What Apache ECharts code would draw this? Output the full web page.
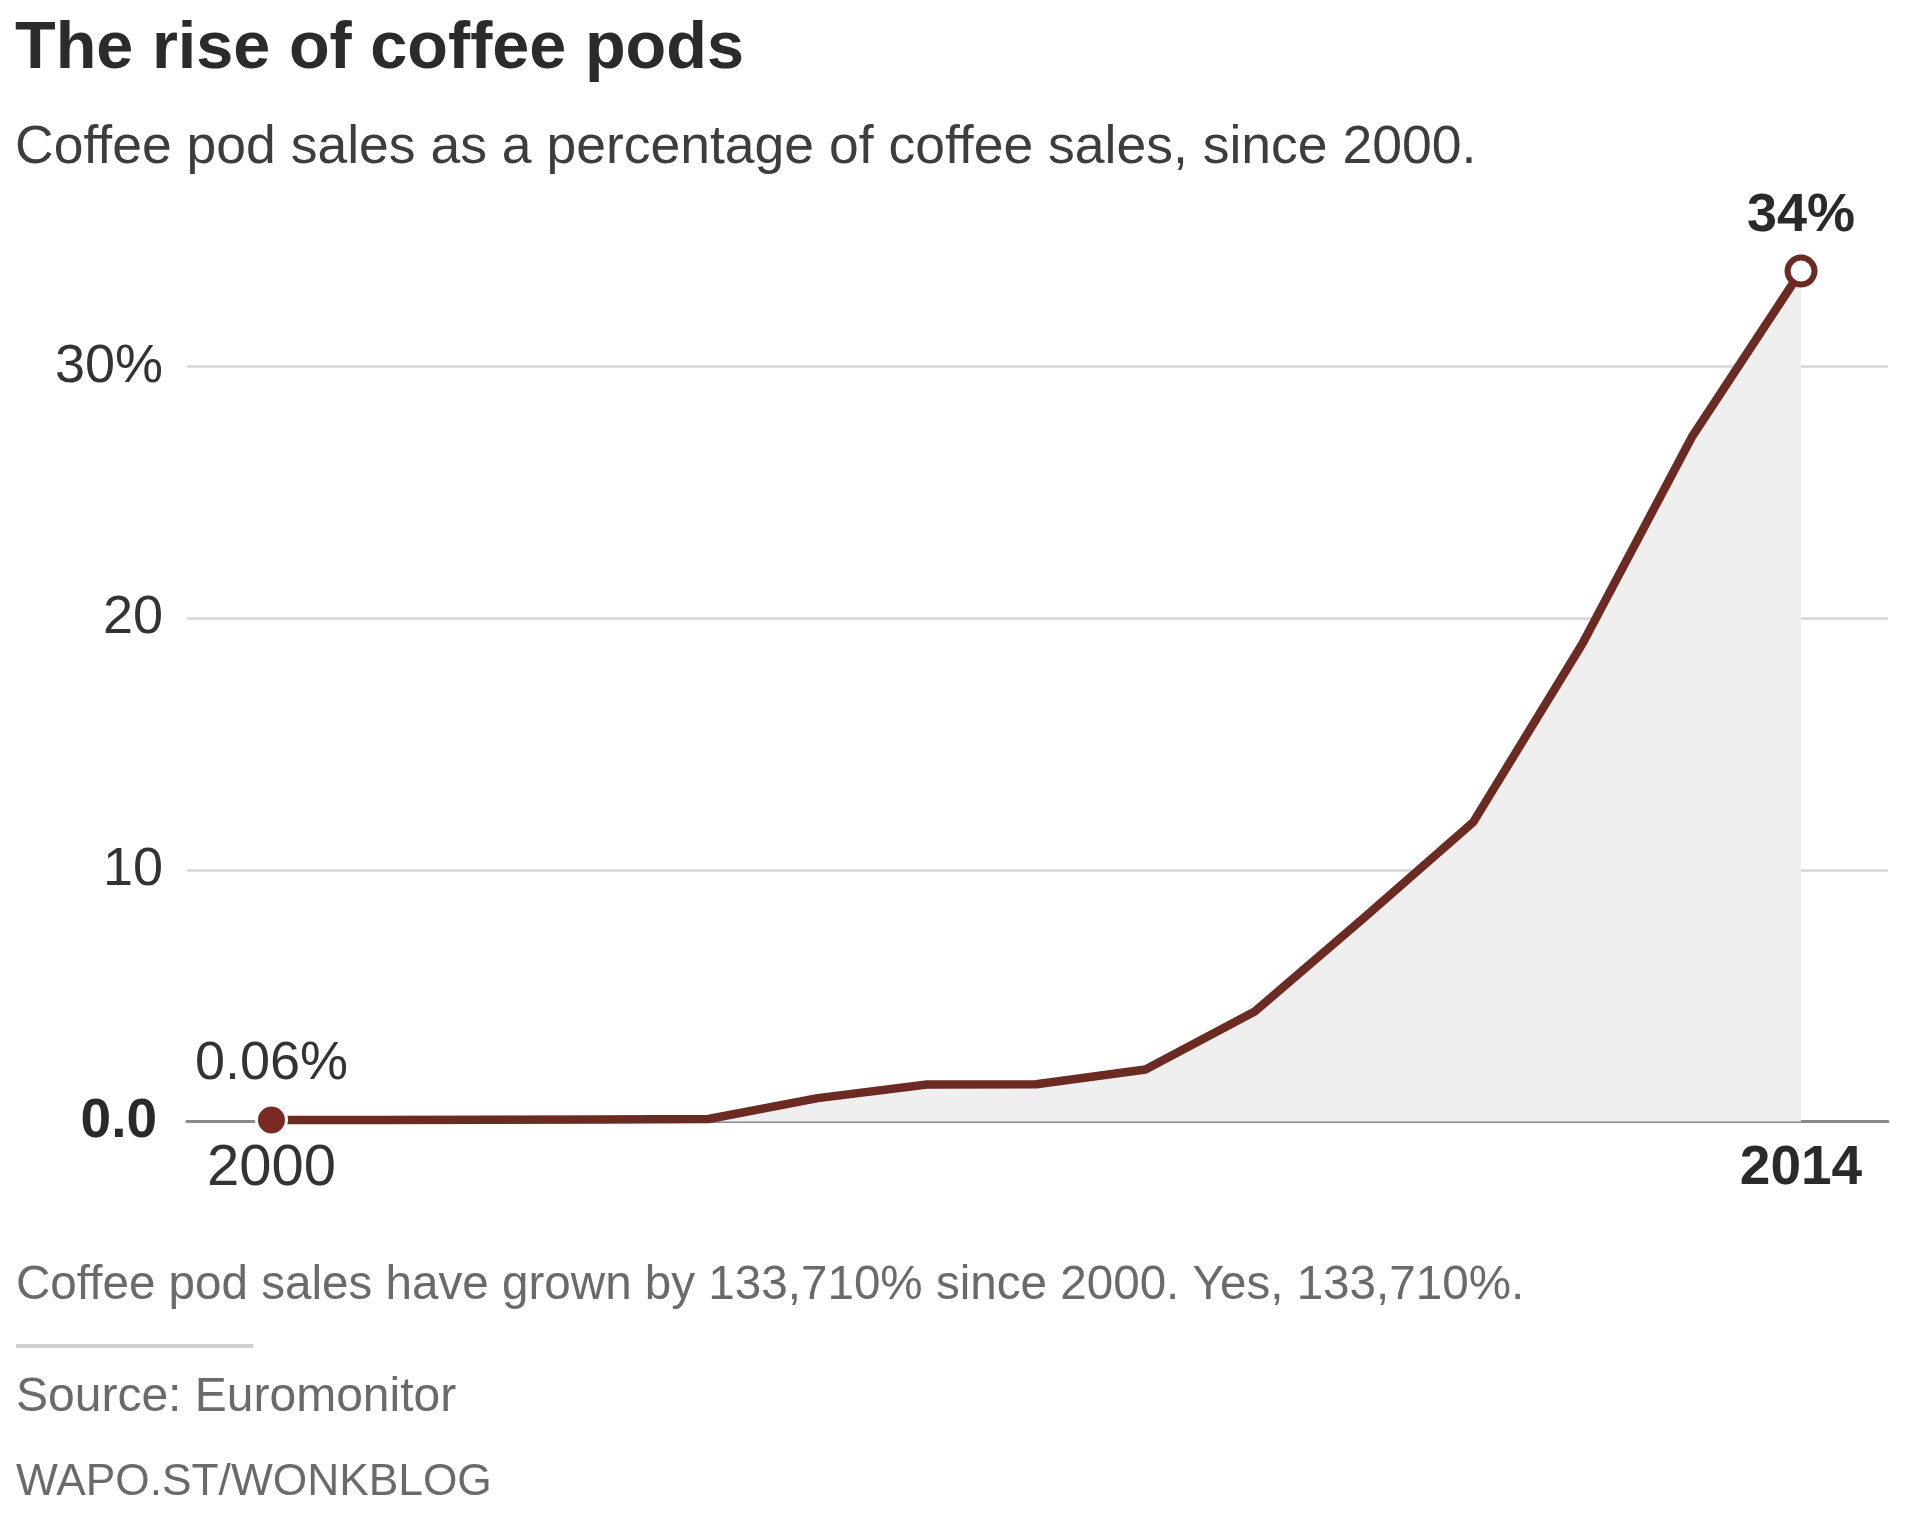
<!DOCTYPE html>
<html>
<head>
<meta charset="utf-8">
<script src="https://cdn.jsdelivr.net/npm/echarts@6/dist/echarts.min.js"></script>
<style>
html,body{margin:0;padding:0;background:#ffffff;}
#chart{width:1912px;height:1522px;}
</style>
</head>
<body>
<div id="chart"></div>
<script>
// ---- data ----
const years = [2000, 2001, 2002, 2003, 2004, 2005, 2006, 2007, 2008, 2009, 2010, 2011, 2012, 2013, 2014];
const podShare = [0.06, 0.06, 0.07, 0.08, 0.1, 0.93, 1.47, 1.48, 2.07, 4.37, 8.1, 11.9, 19.0, 27.2, 33.8];
const yTickValues = [0, 10, 20, 30];
const yTickLabels = ['0.0', '10', '20', '30%'];
const xTickValues = [2000, 2014];
const xTickLabels = ['2000', '2014'];
const startLabel = '0.06%';
const endLabel = '34%';
const titleText = 'The rise of coffee pods';
const subtitleText = 'Coffee pod sales as a percentage of coffee sales, since 2000.';
const noteText = 'Coffee pod sales have grown by 133,710% since 2000. Yes, 133,710%.';
const sourceText = 'Source: Euromonitor';
const creditText = 'WAPO.ST/WONKBLOG';

// ---- chart ----
const FONT = "'Liberation Sans', Arial, Helvetica, sans-serif";
const LINE = '#6b2b23';
const chart = echarts.init(document.getElementById('chart'), null, {renderer: 'canvas'});

const lineData = years.map((y, i) => [y, podShare[i]]);
const last = years.length - 1;

const option = {
  animation: false,
  backgroundColor: '#ffffff',
  grid: {left: 187, right: 24, top: 115.1, bottom: 400.5, containLabel: false},
  xAxis: {
    type: 'value',
    min: 1999.227,
    max: 2014.796,
    axisLine: {show: true, lineStyle: {color: '#8a8a8a', width: 3}},
    axisTick: {show: false},
    splitLine: {show: false},
    axisLabel: {
      customValues: xTickValues,
      margin: 47,
      verticalAlign: 'middle',
      fontFamily: FONT,
      fontSize: 55,
      color: '#333333',
      formatter: function (v) {
        const i = xTickValues.indexOf(v);
        const t = i >= 0 ? xTickLabels[i] : '';
        return i === xTickValues.length - 1 ? '{b|' + t + '}' : '{r|' + t + '}';
      },
      rich: {
        b: {fontFamily: FONT, fontSize: 55, fontWeight: 'bold', color: '#2a2a2a'},
        r: {fontFamily: FONT, fontSize: 58, color: '#333333'}
      }
    }
  },
  yAxis: {
    type: 'value',
    min: 0,
    max: 40,
    interval: 10,
    axisLine: {show: false},
    axisTick: {show: false},
    splitLine: {show: true, showMinLine: false, showMaxLine: false, lineStyle: {color: '#d6d6d6', width: 2.5}},
    axisLabel: {
      showMaxLabel: false,
      margin: 24,
      fontFamily: FONT,
      fontSize: 54,
      color: '#333333',
      formatter: function (v) {
        const i = yTickValues.indexOf(v);
        if (i < 0) return '';
        return i === 0 ? '{b|' + yTickLabels[i] + '}' : yTickLabels[i];
      },
      rich: {b: {fontFamily: FONT, fontSize: 55, fontWeight: 'bold', color: '#2a2a2a', padding: [0, 6, 0, 0]}}
    }
  },
  series: [
    {
      type: 'line',
      data: lineData,
      symbol: 'none',
      z: 2,
      lineStyle: {color: LINE, width: 8.5, join: 'round', cap: 'butt'},
      areaStyle: {color: '#efeff0', opacity: 1},
      silent: true
    },
    {
      type: 'scatter',
      data: [lineData[0]],
      symbol: 'circle',
      symbolSize: 30,
      z: 4,
      itemStyle: {color: '#7a2a22', borderColor: '#ffffff', borderWidth: 3, opacity: 1},
      label: {
        show: true, position: 'inside', offset: [0, -56],
        formatter: startLabel, fontFamily: FONT, fontSize: 54, color: '#333333'
      },
      silent: true
    },
    {
      type: 'scatter',
      data: [lineData[last]],
      symbol: 'circle',
      symbolSize: 27,
      z: 4,
      itemStyle: {color: '#ffffff', borderColor: LINE, borderWidth: 6, opacity: 1},
      label: {
        show: true, position: 'inside', offset: [0, -55],
        formatter: endLabel, fontFamily: FONT, fontSize: 54, fontWeight: 'bold', color: '#2a2a2a'
      },
      silent: true
    }
  ],
  graphic: [
    {type: 'text', x: 15, y: 50, style: {text: titleText, font: 'bold 66.6px ' + FONT, fill: '#2b2b2b', verticalAlign: 'middle'}},
    {type: 'text', x: 15, y: 148.5, style: {text: subtitleText, font: '53.5px ' + FONT, fill: '#3d3d3d', verticalAlign: 'middle'}},
    {type: 'text', x: 16, y: 1286, style: {text: noteText, font: '47.6px ' + FONT, fill: '#6a6a6a', verticalAlign: 'middle'}},
    {type: 'rect', shape: {x: 16, y: 1344, width: 237, height: 4}, style: {fill: '#d0d0d0'}},
    {type: 'text', x: 16, y: 1398, style: {text: sourceText, font: '48px ' + FONT, fill: '#6a6a6a', verticalAlign: 'middle'}},
    {type: 'text', x: 16, y: 1483, style: {text: creditText, font: '44.3px ' + FONT, fill: '#6a6a6a', verticalAlign: 'middle'}}
  ]
};
chart.setOption(option);
</script>
</body>
</html>
